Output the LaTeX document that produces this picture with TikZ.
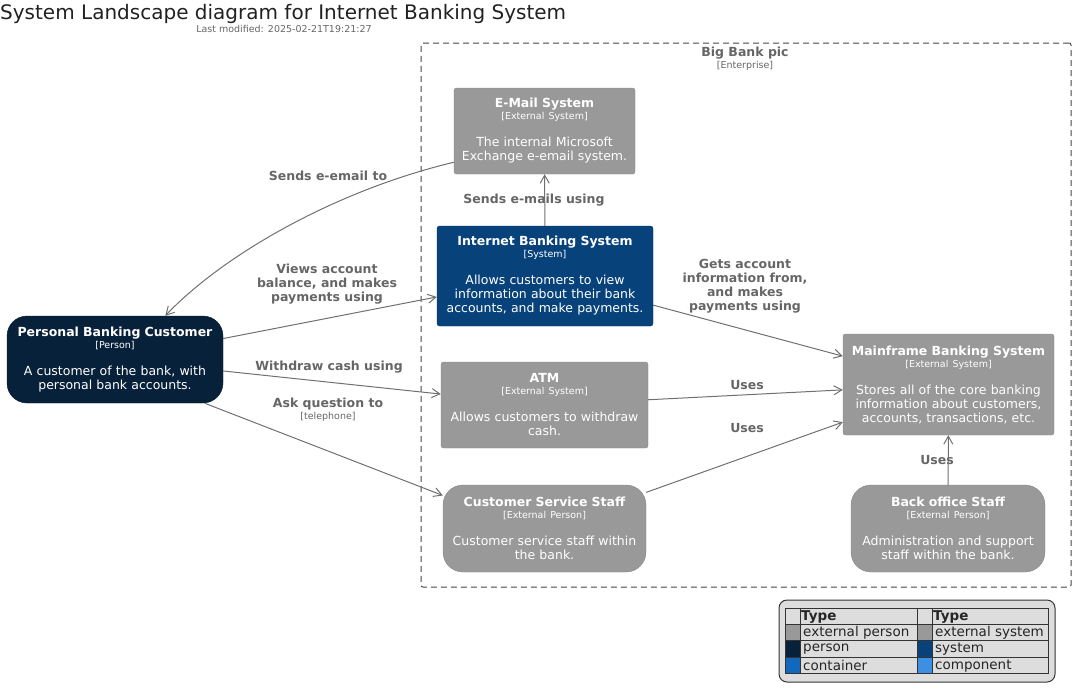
\documentclass[tikz,border=0pt]{standalone}
\usepackage{fontspec}
\setmainfont{DejaVu Sans}
\usepackage{xcolor}
\usetikzlibrary{arrows.meta,positioning}

\definecolor{extgray}{HTML}{999999}
\definecolor{personblue}{HTML}{08213A}
\definecolor{sysblue}{HTML}{08427B}
\definecolor{contblue}{HTML}{1168BD}
\definecolor{compblue}{HTML}{3C8FE3}
\definecolor{relgray}{HTML}{707070}
\definecolor{lblgray}{HTML}{666666}
\definecolor{legbg}{HTML}{DDDDDD}
\definecolor{legline}{HTML}{333333}

\newcommand{\tagfont}{\fontsize{9.5}{11}\selectfont}
\newcommand{\elemtext}[3]{{\bfseries #1}\\[-2pt]{\tagfont [#2]}\\[13pt]#3}

\begin{document}
\begin{tikzpicture}[
x=1pt, y=-1pt,
elem/.style={text=white, align=center, inner sep=0pt, font=\fontsize{12.5}{14}\selectfont},
extsys/.style={elem, fill=extgray, draw=extgray!88!black, rounded corners=2.5pt},
intsys/.style={elem, fill=sysblue, draw=sysblue!85!black, rounded corners=2.5pt},
person/.style={elem, fill=personblue, draw=personblue!85!black, rounded corners=20pt},
extperson/.style={elem, fill=extgray, draw=extgray!88!black, rounded corners=20pt},
rel/.style={draw=relgray, line width=1pt, -{Straight Barb[length=8pt,width=9pt]}},
rellbl/.style={text=lblgray, align=center, inner sep=0pt, font=\bfseries\fontsize{12.5}{14}\selectfont},
legtxt/.style={anchor=west, inner sep=0pt, text=black!85, font=\fontsize{13.5}{15}\selectfont}
]
\useasboundingbox (0,0) rectangle (1075,697);

% title
\node[anchor=base west, inner sep=0pt, text=black!87, font=\fontsize{20}{24}\selectfont] (title) at (0,19.5) {System Landscape diagram for Internet Banking System};
\node[anchor=base, inner sep=0pt, text=lblgray, font=\tagfont] (modified) at (284,32) {Last modified: 2025-02-21T19:21:27};

% enterprise boundary
\node[draw=black!72, dashed, dash pattern=on 6pt off 4pt, line width=1pt, rounded corners=2pt, minimum width=650pt, minimum height=544pt] (bank) at (746,315) {};
\node[rellbl] (banklbl) at (745,59) {Big Bank pic\\[-2pt]{\mdseries\tagfont [Enterprise]}};

% elements
\node[person, minimum width=216pt, minimum height=87pt, text width=210pt] (customer) at (115,359.5)
  {\elemtext{Personal Banking Customer}{Person}{A customer of the bank, with\\personal bank accounts.}};
\node[extsys, minimum width=181pt, minimum height=86pt, text width=177pt] (email) at (544.5,131)
  {\elemtext{E-Mail System}{External System}{The internal Microsoft\\Exchange e-email system.}};
\node[intsys, minimum width=216pt, minimum height=100pt, text width=212pt] (ibs) at (545,276)
  {\elemtext{Internet Banking System}{System}{Allows customers to view\\information about their bank\\accounts, and make payments.}};
\node[extsys, minimum width=207pt, minimum height=86pt, text width=203pt] (atm) at (544.5,405)
  {\elemtext{ATM}{External System}{Allows customers to withdraw\\cash.}};
\node[extperson, minimum width=203pt, minimum height=87pt, text width=199pt] (css) at (544.5,528.5)
  {\elemtext{Customer Service Staff}{External Person}{Customer service staff within\\the bank.}};
\node[extsys, minimum width=211pt, minimum height=101pt, text width=207pt] (mainframe) at (948.5,384.5)
  {\elemtext{Mainframe Banking System}{External System}{Stores all of the core banking\\information about customers,\\accounts, transactions, etc.}};
\node[extperson, minimum width=194pt, minimum height=87pt, text width=190pt] (backoffice) at (948,528.5)
  {\elemtext{Back office Staff}{External Person}{Administration and support\\staff within the bank.}};

% relations
\draw[rel] (email.199) .. controls (330,192) and (220,258) .. (customer.41);
\draw[rel] (customer) -- (ibs);
\draw[rel] (customer) -- (atm);
\draw[rel] (customer.-26) -- (css.162);
\draw[rel] (ibs) -- (email);
\draw[rel] (ibs) -- (mainframe);
\draw[rel] (atm) -- (mainframe);
\draw[rel] (css) -- (mainframe);
\draw[rel] (backoffice) -- (mainframe);

\node[rellbl] (lblemail) at (328,176) {Sends e-email to};
\node[rellbl] (lblviews) at (327,284) {Views account\\balance, and makes\\payments using};
\node[rellbl] (lblcash) at (329,367) {Withdraw cash using};
\node[rellbl] (lblask) at (328,410) {Ask question to\\[-2pt]{\mdseries\tagfont [telephone]}};
\node[rellbl] (lblsends) at (534,200) {Sends e-mails using};
\node[rellbl] (lblgets) at (745,286) {Gets account\\information from,\\and makes\\payments using};
\node[rellbl] (lblatm) at (747,385) {Uses};
\node[rellbl] (lblcss) at (747,428) {Uses};
\node[rellbl] (lblback) at (937,460) {Uses};

% legend
\node[draw=legline, fill=legbg, line width=1pt, rounded corners=8pt, minimum width=276pt, minimum height=82pt] (legend) at (917,641) {};
\foreach \yy/\ca/\cb/\ta/\tb [count=\i] in {
  624.4/extgray/extgray/external person/external system,
  640.8/personblue/sysblue/person/system,
  657.2/contblue/compblue/container/component}{
  \fill[\ca] (785,\yy) rectangle (800,\yy+16.4);
  \fill[\cb] (917,\yy) rectangle (932,\yy+16.4);
  \node[legtxt] (lega\i) at (803,\yy+8.6) {\ta};
  \node[legtxt] (legb\i) at (935,\yy+8.6) {\tb};
}
\node[legtxt, font=\bfseries\fontsize{13.5}{15}\selectfont] (legtypea) at (801,617) {Type};
\node[legtxt, font=\bfseries\fontsize{13.5}{15}\selectfont] (legtypeb) at (933,617) {Type};
\draw[legline, line width=1pt] (785,608) rectangle (1048,673.6);
\foreach \yy in {624.4,640.8,657.2}
  \draw[legline, line width=1pt] (785,\yy) -- (1048,\yy);
\foreach \xx in {800,917,932}
  \draw[legline, line width=1pt] (\xx,608) -- (\xx,673.6);
\end{tikzpicture}
\end{document}
